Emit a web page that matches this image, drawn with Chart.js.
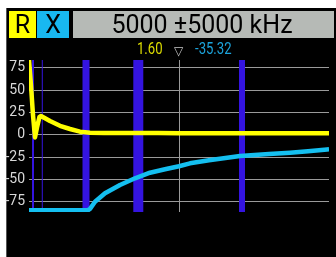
<!DOCTYPE html>
<html><head><meta charset="utf-8">
<script src="https://cdn.jsdelivr.net/npm/chart.js@4/dist/chart.umd.min.js"></script>
<style>
html,body{margin:0;padding:0;background:#fff;width:336px;height:257px;overflow:hidden;font-family:Roboto,"Liberation Sans",sans-serif;}
#screen{position:absolute;left:6px;top:8px;width:330px;height:249px;background:#000;border-left:1px solid #555;box-sizing:border-box;}
.box{position:absolute;top:11px;height:27px;line-height:27px;text-align:center;color:#000;font-size:25px;}
#bR{left:9px;width:27px;background:#ffff00;}
#bX{left:37px;width:32px;background:#18b8f0;}
#bF{left:73px;width:261px;background:#b6bab6;padding-right:3px;box-sizing:border-box;}
.mk{position:absolute;top:40px;font-size:16px;line-height:18px;transform-origin:0 0;transform:scaleX(0.82);}
#mR{left:137px;color:#dcdc00;}
#mT{left:174px;color:#c8c8c8;font-size:12px;top:42px;transform:none;}
#mX{left:195px;color:#1ca4dc;}
canvas{position:absolute;left:0;top:0;}
</style></head>
<body>
<div id="screen"></div>
<canvas id="c" width="336" height="257"></canvas>
<div class="box" id="bR">R</div>
<div class="box" id="bX">X</div>
<div class="box" id="bF">5000 ±5000 kHz</div>
<div class="mk" id="mR">1.60</div>
<div class="mk" id="mT">▽</div>
<div class="mk" id="mX">-35.32</div>
<script>
// Frequency (kHz) and resistance R
const freqR = [0, 67, 133, 200, 267, 350, 400, 700, 1033, 1367, 1700, 2033, 2500, 3500, 4300, 5000, 6000, 7000, 8000, 9000, 10000];
const valuesR = [84, 55, 22, -3, 8, 20, 21, 15.3, 10, 6.4, 3.4, 2.2, 2, 2, 1.9, 1.6, 1.6, 1.6, 1.6, 1.6, 1.5];
// Frequency (kHz) and reactance X
const freqX = [0, 500, 1000, 1500, 1967, 2033, 2200, 2533, 3033, 3533, 4033, 4533, 5000, 5367, 6000, 7033, 8000, 8700, 9300, 9933, 10000];
const valuesX = [-84.5, -84.5, -84.5, -84.5, -84.5, -83, -75, -65.6, -56.3, -48.8, -42.5, -38.7, -35.3, -32, -28.5, -23.8, -21.5, -20.1, -18.5, -16.5, -16.3];
// Blue marker bands (kHz)
const bandFreqs = [133, 443, 1900, 3643, 7100];
const yTicks = [75, 50, 25, 0, -25, -50, -75];
const xTicks = [5000];
const yMin = -86.5, yMax = 83.6;

const bandWidths = [2, 1, 7, 10, 6];
const pts = (xs, ys) => xs.map((x, i) => ({x, y: ys[i]}));
const bandSets = bandFreqs.map((f, i) => ({
  data: [{x: f, y: yMin}, {x: f, y: yMax}],
  borderColor: '#3414e0', borderWidth: bandWidths[i], borderCapStyle: 'butt',
  pointRadius: 0, order: 5, clip: false
}));

new Chart(document.getElementById('c'), {
  type: 'line',
  data: {
    datasets: [
      {data: pts(freqR, valuesR), borderColor: '#ffff00', borderWidth: 4.5, pointRadius: 0, tension: 0, borderJoinStyle: 'round', order: 1},
      {data: pts(freqX, valuesX), borderColor: '#14bff0', borderWidth: 4.5, pointRadius: 0, tension: 0, borderJoinStyle: 'round', order: 0},
      ...bandSets
    ]
  },
  options: {
    responsive: false, animation: false, devicePixelRatio: 1,
    layout: {padding: {top: 60, bottom: 45, right: 7, left: 0}},
    plugins: {legend: {display: false}, tooltip: {enabled: false}},
    scales: {
      x: {
        type: 'linear', min: 0, max: 10000,
        afterBuildTicks: s => { s.ticks = xTicks.map(v => ({value: v})); },
        afterFit: s => { s.height = 0; },
        ticks: {display: false},
        grid: {color: '#9a9a9a', drawTicks: false, lineWidth: 1},
        border: {display: false}
      },
      y: {
        min: yMin, max: yMax,
        afterBuildTicks: s => { s.ticks = yTicks.map(v => ({value: v})); },
        afterFit: s => { s.width = 29; },
        ticks: {color: '#d8d8d8', padding: 4, font: {family: 'Roboto', size: 14}},
        grid: {color: '#9a9a9a', drawTicks: false, lineWidth: 1},
        border: {display: false}
      }
    }
  }
});
</script>
</body></html>
